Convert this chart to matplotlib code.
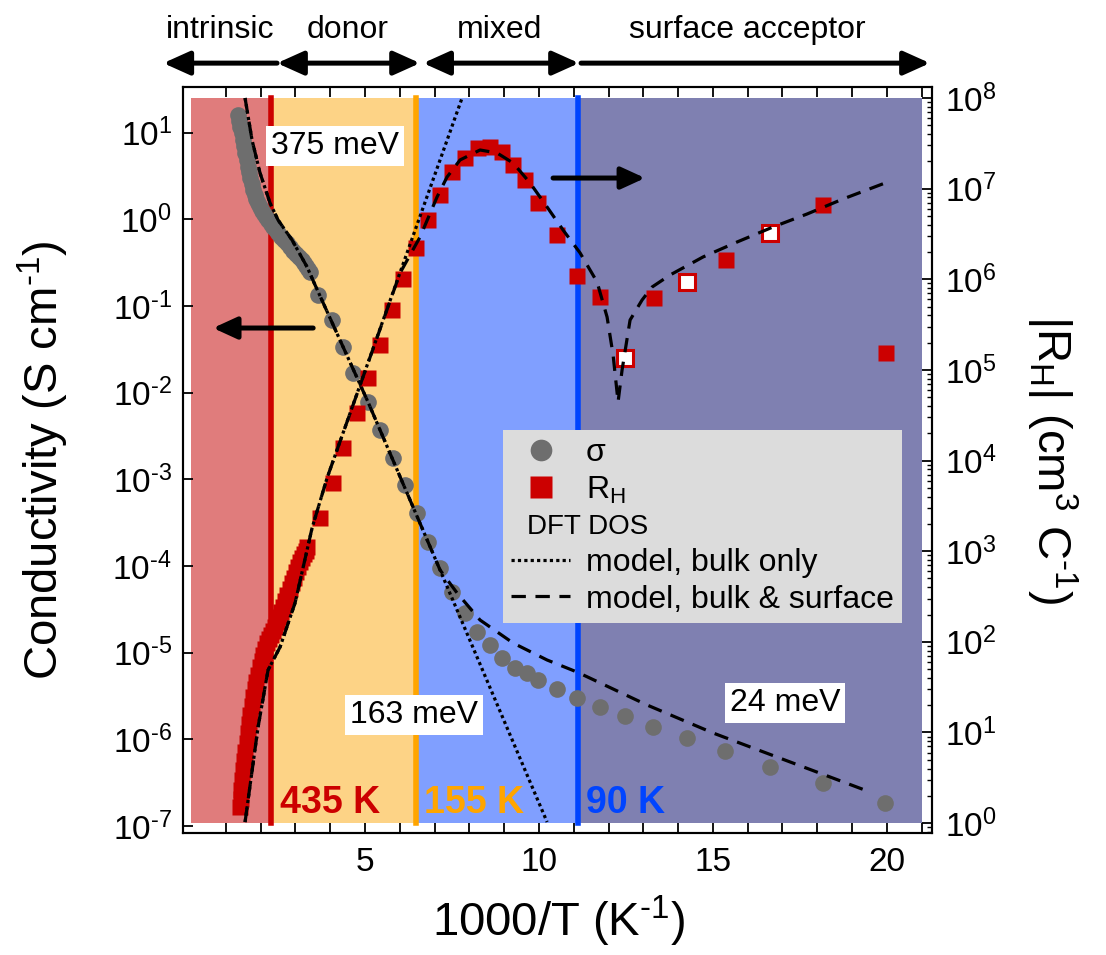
import numpy as np
import matplotlib
matplotlib.use('Agg')
import matplotlib.pyplot as plt
import matplotlib.transforms as mtransforms
from matplotlib.patches import Rectangle
from matplotlib.lines import Line2D
from matplotlib.ticker import LogLocator, FixedLocator, NullLocator, NullFormatter, FuncFormatter

plt.rcParams['font.family'] = ['Liberation Sans', 'DejaVu Sans']
plt.rcParams['mathtext.fontset'] = 'custom'
plt.rcParams['mathtext.rm'] = 'Liberation Sans'
plt.rcParams['mathtext.it'] = 'Liberation Sans:italic'
plt.rcParams['mathtext.bf'] = 'Liberation Sans:bold'
plt.rcParams['mathtext.default'] = 'regular'
plt.rcParams['axes.unicode_minus'] = False

HY = '\u2010'  # short hyphen used in the superscripts

# --- transport regimes ---
boundary_T = [435, 155, 90]
boundary_colors = ['#CC0000', '#FFA500', '#0044FF']
region_edges = [0, 1000 / 435, 1000 / 155, 1000 / 90, 21]
region_colors = ['#E07C7C', '#FDD386', '#809FFF', '#7F80B1']
phase_labels = ['intrinsic', 'donor', 'mixed', 'surface acceptor']
phase_label_x = [0.84, 4.51, 8.88, 16.0]
phase_start = [-0.80, 2.47, 6.67, 11.21]
phase_end = [2.47, 6.58, 11.15, 21.24]
phase_style = ['<|-', '<|-|>', '<|-|>', '-|>']

# --- conductivity (1000/T, log10 sigma in S/cm) ---
sig_x = [1.348, 1.377, 1.406, 1.449, 1.492, 1.521, 1.550, 1.593, 1.636, 1.665, 1.694,
         1.737, 1.780, 1.823, 1.866, 1.924, 1.981, 2.039, 2.096, 2.154,
         2.211, 2.283, 2.355, 2.427, 2.499, 2.585, 2.671, 2.758, 2.844, 2.930,
         3.016, 3.103, 3.189, 3.247, 3.304, 3.362, 3.419,
         3.649, 4.051, 4.367, 4.655, 5.086, 5.431, 5.805, 6.150, 6.495, 6.811,
         7.156, 7.501, 7.875, 8.220, 8.594, 8.939, 9.313, 9.658, 9.974, 10.520,
         11.095, 11.757, 12.476, 13.281, 14.258, 15.351, 16.645, 18.169, 19.952]
sig_log = [1.202, 1.130, 1.063, 0.990, 0.913, 0.840, 0.764, 0.683, 0.602, 0.540, 0.475,
           0.405, 0.337, 0.285, 0.233, 0.187, 0.141, 0.100, 0.060, 0.025,
           -0.009, -0.050, -0.090, -0.125, -0.159, -0.200, -0.240, -0.280, -0.321, -0.361,
           -0.401, -0.436, -0.471, -0.506, -0.540, -0.575, -0.609,
           -0.874, -1.163, -1.474, -1.774, -2.109, -2.431, -2.754, -3.066, -3.389, -3.723,
           -4.023, -4.300, -4.542, -4.761, -4.911, -5.061, -5.177, -5.234, -5.315, -5.419,
           -5.523, -5.627, -5.730, -5.857, -5.984, -6.134, -6.319, -6.503, -6.734]

# --- Hall coefficient (1000/T, log10 |R_H| in cm3/C) ---
rh_x = [1.406, 1.420, 1.435, 1.463, 1.492, 1.521, 1.550, 1.593, 1.636, 1.665, 1.694,
        1.737, 1.780, 1.823, 1.866, 1.924, 1.981, 2.024, 2.067,
        2.125, 2.182, 2.240, 2.297, 2.355, 2.412, 2.470, 2.527, 2.585, 2.642, 2.700,
        2.757, 2.829, 2.901, 2.959, 3.016, 3.074, 3.131, 3.189, 3.246, 3.290, 3.333,
        3.704, 4.077, 4.365, 4.767, 5.084, 5.429, 5.774, 6.090, 6.464, 6.809,
        7.154, 7.499, 7.873, 8.246, 8.591, 8.936, 9.253, 9.598, 9.972, 10.518,
        11.093, 11.754, 13.306, 15.376, 18.165, 19.976]
rh_log = [0.177, 0.270, 0.364, 0.475, 0.585, 0.685, 0.784, 0.888, 0.993, 1.092, 1.192,
          1.291, 1.391, 1.474, 1.556, 1.638, 1.721, 1.788, 1.854,
          1.920, 1.986, 2.030, 2.074, 2.118, 2.163, 2.218, 2.273, 2.328, 2.383, 2.450,
          2.516, 2.582, 2.648, 2.709, 2.770, 2.825, 2.880, 2.924, 2.968, 3.007, 3.046,
          3.366, 3.752, 4.138, 4.524, 4.910, 5.274, 5.661, 6.003, 6.345, 6.654,
          6.930, 7.183, 7.338, 7.448, 7.459, 7.404, 7.261, 7.095, 6.841, 6.488,
          6.036, 5.804, 5.793, 6.212, 6.819, 5.186]
rh_open_x = [12.475, 14.257, 16.643]
rh_open_log = [5.131, 5.970, 6.510]

# --- DFT DOS models ---
sig_bulk_x = [1.550, 1.751, 1.981, 2.268, 2.499, 2.901, 3.333, 3.563, 5.086, 7.156, 10.233]
sig_bulk_log = [1.398, 0.913, 0.533, 0.187, -0.009, -0.240, -0.551, -0.759, -2.109, -4.046, -6.953]
sig_surf_x = [1.550, 1.751, 1.981, 2.268, 2.499, 2.901, 3.333, 3.563, 5.086, 7.156,
              7.645, 8.306, 9.255, 10.233, 11.095, 13.107, 15.005, 19.519]
sig_surf_log = [1.398, 0.913, 0.533, 0.187, -0.009, -0.240, -0.551, -0.759, -2.109, -4.046,
                -4.311, -4.623, -4.888, -5.084, -5.223, -5.603, -5.926, -6.607]
rh_bulk_x = [1.550, 1.924, 2.211, 2.556, 2.987, 3.476, 3.907, 7.789]
rh_bulk_log = [0.011, 1.059, 1.688, 1.942, 2.428, 3.255, 3.807, 8.0]
rh_surf_x = [1.550, 1.924, 2.211, 2.556, 2.987, 3.476, 3.907, 6.006,
             6.581, 7.070, 7.357, 7.731, 8.306, 8.795, 9.255, 9.744, 10.233, 10.693,
             11.182, 11.670, 11.958, 12.131, 12.274, 12.389, 12.619, 12.964, 13.251,
             13.769, 14.718, 15.696, 16.731, 17.709, 18.744, 19.952]
rh_surf_log = [0.011, 1.059, 1.688, 1.942, 2.428, 3.255, 3.807, 6.069,
               6.466, 6.908, 7.128, 7.316, 7.426, 7.393, 7.283, 7.062, 6.797, 6.543,
               6.290, 5.970, 5.583, 5.164, 4.646, 4.999, 5.550, 5.771, 5.914,
               6.047, 6.246, 6.411, 6.577, 6.720, 6.886, 7.062]

# activation energy labels (1000/T, log10 sigma)
energy_labels = ['375 meV', '163 meV', '24 meV']
energy_x = [4.137, 6.409, 17.075]
energy_log = [0.844, -5.719, -5.580]

gray = '#6E6E6E'
red = '#CC0000'

fig = plt.figure(figsize=(11.06, 9.55), dpi=100)
ax1 = fig.add_axes([0.1655, 0.1277, 0.6772, 0.7812])
ax2 = ax1.twinx()
ax1.set_yscale('log')
ax2.set_yscale('log')
ax1.set_xlim(-0.233, 21.30)
ax1.set_ylim(10 ** -7.08, 10 ** 1.525)
ax2.set_ylim(10 ** -0.110, 10 ** 8.121)

# background regions and boundary lines (spanning 1 .. 1e8 of the right axis)
for i in range(4):
    ax1.add_patch(Rectangle((region_edges[i], 1), region_edges[i + 1] - region_edges[i], 1e8 - 1,
                            facecolor=region_colors[i], edgecolor='none',
                            transform=ax2.transData, zorder=0))
for T, c in zip(boundary_T, boundary_colors):
    ax1.plot([1000 / T, 1000 / T], [1, 1e8], color=c, lw=4, transform=ax2.transData, zorder=1)

# conductivity
ax1.plot(sig_x, 10 ** np.array(sig_log), 'o', ms=12, color=gray, mec='none', zorder=3)
ax1.plot(sig_bulk_x, 10 ** np.array(sig_bulk_log), color='k', lw=2.3, ls=(0, (1, 1)), zorder=4)
ax1.plot(sig_surf_x, 10 ** np.array(sig_surf_log), color='k', lw=2.3, ls=(0, (4.5, 3)), zorder=4)

# Hall coefficient
ax2.plot(rh_x, 10 ** np.array(rh_log), 's', ms=12, color=red, mec='none', zorder=3)
ax2.plot(rh_open_x, 10 ** np.array(rh_open_log), 's', ms=11, mfc='white', mec=red, mew=2.2, zorder=3)
ax2.plot(rh_bulk_x, 10 ** np.array(rh_bulk_log), color='k', lw=2.3, ls=(0, (1, 1)), zorder=4)
ax2.plot(rh_surf_x, 10 ** np.array(rh_surf_log), color='k', lw=2.3, ls=(0, (4.5, 3)), zorder=4)

# temperature labels
for T, c in zip(boundary_T, boundary_colors):
    ax2.text(1000 / T + 0.25, 10 ** 0.108, f'{T} K', color=c, fontsize=27,
             fontweight='bold', ha='left', va='baseline', zorder=5)

# activation energies
for s, x, y in zip(energy_labels, energy_x, energy_log):
    ax2.text(x, 10 ** y, s, transform=ax1.transData, fontsize=23, ha='center', va='center',
             bbox=dict(boxstyle='square,pad=0.15', facecolor='white', edgecolor='none'), zorder=5)

# axis arrows
arr = dict(arrowstyle='-|>,head_length=0.72,head_width=0.33', lw=3.6, color='k',
           shrinkA=0, shrinkB=0, mutation_scale=20)
ax2.annotate('', xy=(0.629, 10 ** -1.255), xytext=(3.508, 10 ** -1.255),
             xycoords=ax1.transData, textcoords=ax1.transData, arrowprops=arr)
ax2.annotate('', xy=(13.05, 10 ** 0.475), xytext=(10.405, 10 ** 0.475),
             xycoords=ax1.transData, textcoords=ax1.transData, arrowprops=arr)

# regime arrows above the plot
top = mtransforms.blended_transform_factory(ax1.transData, ax1.transAxes)
for lab, lx, x0, x1, st in zip(phase_labels, phase_label_x, phase_start, phase_end, phase_style):
    ax1.annotate('', xy=(x1, 1.032), xytext=(x0, 1.032), xycoords=top, textcoords=top,
                 annotation_clip=False,
                 arrowprops=dict(arrowstyle=st + ',head_length=0.8,head_width=0.36', lw=3.6,
                                 color='k', shrinkA=0, shrinkB=0, mutation_scale=20))
    ax1.text(lx, 1.066, lab, transform=top, fontsize=23, ha='center', va='baseline')

# legend
handles = [Line2D([], [], marker='o', ls='none', ms=12, color=gray, mec='none'),
           Line2D([], [], marker='s', ls='none', ms=12, color=red, mec='none'),
           Line2D([], [], ls='none'),
           Line2D([], [], color='k', lw=2.3, ls=(0, (1, 1))),
           Line2D([], [], color='k', lw=2.3, ls=(0, (4.5, 3)))]
labels = ['σ', 'R$_H$', ' ', 'model, bulk only', 'model, bulk & surface']
leg = ax2.legend(handles, labels, loc='upper left', bbox_to_anchor=(0.4272, 0.5402),
                 borderaxespad=0, fontsize=23, frameon=True, fancybox=False, framealpha=1,
                 facecolor='#DCDCDC', edgecolor='none', borderpad=0.25, labelspacing=0.2,
                 handlelength=1.85, handletextpad=0.5, markerscale=1.3)
leg.set_zorder(6)


def decade(v, pos):
    return '10$^{%s}$' % str(int(round(np.log10(v)))).replace('-', HY)


# ticks
ax1.xaxis.set_major_locator(FixedLocator([5, 10, 15, 20]))
ax1.xaxis.set_minor_locator(FixedLocator([v for v in range(1, 22) if v % 5 != 0]))
ax1.tick_params(axis='x', which='both', direction='in', top=True, bottom=True,
                length=7, width=1.3, labelsize=24, pad=10)
ax1.yaxis.set_major_locator(LogLocator(base=10, numticks=20))
ax1.yaxis.set_major_formatter(FuncFormatter(decade))
ax1.yaxis.set_minor_locator(NullLocator())
ax1.tick_params(axis='y', which='both', direction='in', right=False,
                length=7, width=1.3, labelsize=24, pad=8)
ax2.yaxis.set_major_locator(LogLocator(base=10, numticks=20))
ax2.yaxis.set_major_formatter(FuncFormatter(decade))
ax2.yaxis.set_minor_locator(LogLocator(base=10, subs=np.arange(2, 10), numticks=20))
ax2.yaxis.set_minor_formatter(NullFormatter())
ax2.tick_params(axis='y', which='major', direction='in', length=7, width=1.3, labelsize=24, pad=9)
ax2.tick_params(axis='y', which='minor', direction='in', length=3.5, width=1.0)
for ax in (ax1, ax2):
    for sp in ax.spines.values():
        sp.set_linewidth(1.5)

ax1.set_xlabel('1000/T (K$^{' + HY + '1}$)', fontsize=34, va='center')
ax1.xaxis.set_label_coords(0.502, -0.118)
ax1.set_ylabel('Conductivity (S cm$^{' + HY + '1}$)', fontsize=34, va='center')
ax1.yaxis.set_label_coords(-0.187, 0.5)
ax2.set_ylabel('|R$_H$| (cm$^3$ C$^{' + HY + '1}$)', fontsize=34, rotation=270, va='center')
ax2.yaxis.set_label_coords(1.160, 0.5)

# "DFT DOS" header sits in the blank legend row, starting under the markers
fig.canvas.draw()
tb = leg.get_texts()[2].get_window_extent()
fb = leg.get_frame().get_window_extent()
hx, hy = ax2.transAxes.inverted().transform((fb.x0 + 24, (tb.y0 + tb.y1) / 2))
ax2.text(hx, hy, 'DFT DOS', transform=ax2.transAxes, fontsize=20,
         ha='left', va='center', zorder=7)

fig.savefig('out.png', dpi=100)
